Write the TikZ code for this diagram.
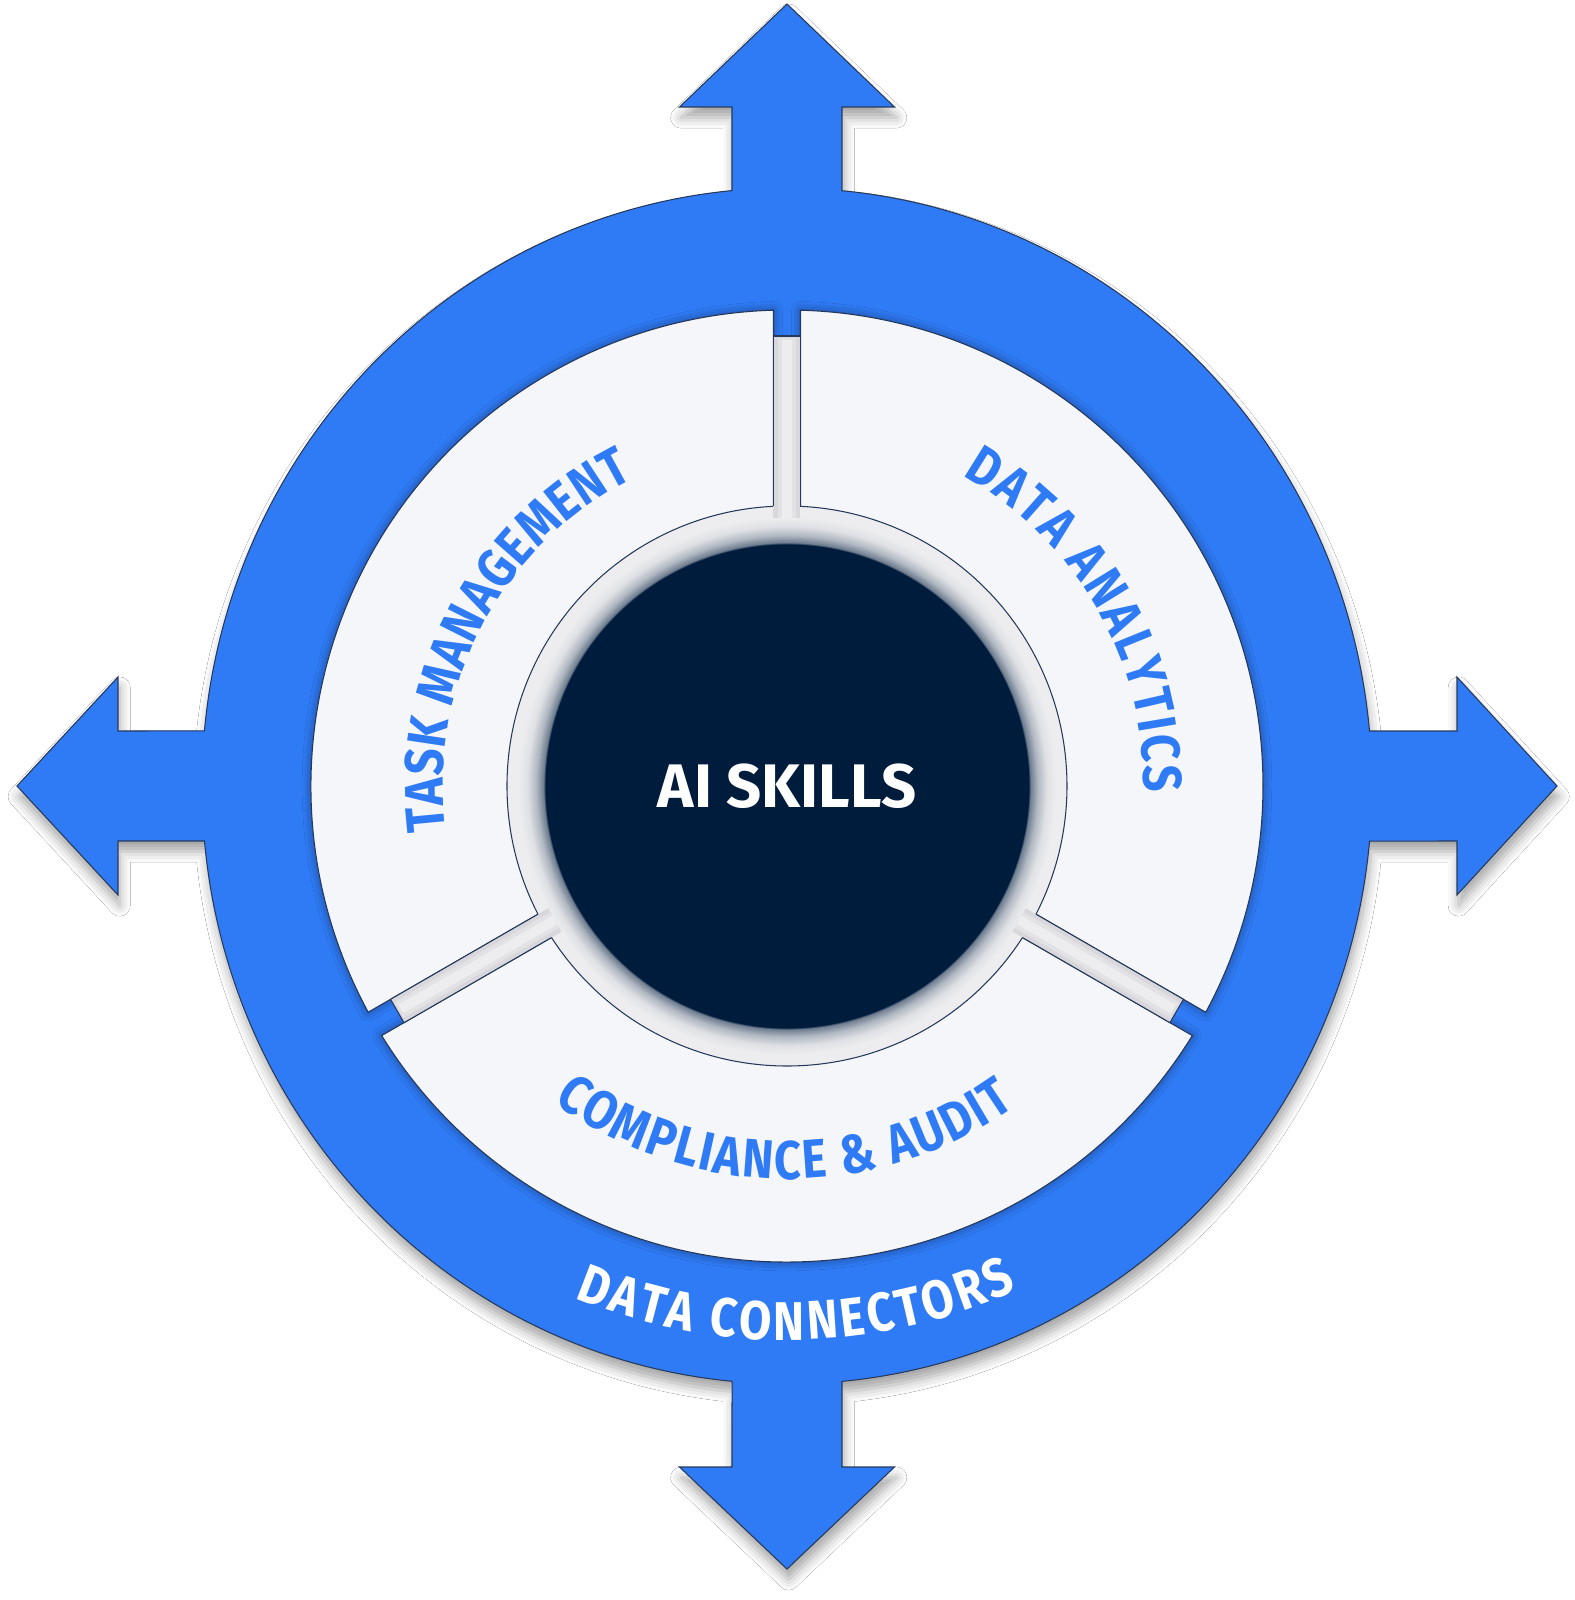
\documentclass[tikz,border=0pt]{standalone}
\usepackage{fontspec}
\setmainfont{Fira Sans}
\newfontfamily\arcfont[FakeStretch=0.86]{Fira Sans}
\usetikzlibrary{decorations.text,shadows.blur}

\definecolor{ringblue}{RGB}{47,123,246}
\definecolor{corenavy}{RGB}{0,28,61}
\definecolor{segfill}{RGB}{244,246,250}
\definecolor{edgeline}{RGB}{38,57,90}
\definecolor{hubgray}{RGB}{237,237,239}
\definecolor{spokegray}{RGB}{216,216,220}

% navy core fading into the light hub ring (25bp = rim of the hub)
\pgfdeclareradialshading{hubshade}{\pgfpoint{0bp}{0bp}}{%
  color(0bp)=(corenavy); color(21.6bp)=(corenavy);
  color(21.7bp)=(corenavy!55!hubgray); color(22.4bp)=(corenavy!25!hubgray);
  color(23.2bp)=(corenavy!6!hubgray); color(24bp)=(hubgray); color(50bp)=(hubgray)}

\tikzset{
  segment/.style={fill=segfill, draw=edgeline, line width=0.3pt,
    blur shadow={shadow xshift=0pt, shadow yshift=0pt, shadow blur radius=2.5pt, shadow opacity=45}},
  arclabel/.style 2 args={decorate, decoration={text along path, text align={fit to path},
    text color=#1, text={|\arcfont\bfseries\fontsize{15.5}{18}\selectfont|#2}}},
}

\begin{document}
\begin{tikzpicture}[x=0.1mm, y=0.1mm]
    \path[use as bounding box, fill=white] (-787,-814) rectangle (788,786);
    % blue ring with four arrows
    \path[fill=ringblue, draw=edgeline, line width=0.3pt,
          blur shadow={shadow xshift=0.5pt, shadow yshift=-3pt, shadow blur radius=3pt, shadow opacity=35}]
        (55,595.4) -- (55,679) -- (107.5,679) -- (0,782) -- (-107.5,679) -- (-55,679) -- (-55,595.4)
        arc[x radius=585, y radius=598, start angle=95.39, end angle=174.72]
        -- (-669,55) -- (-669,109) -- (-770,0) -- (-669,-109) -- (-669,-55) -- (-582.5,-55)
        arc[x radius=585, y radius=598, start angle=185.28, end angle=264.61]
        -- (-55,-681) -- (-107.5,-681) -- (0,-783) -- (107.5,-681) -- (55,-681) -- (55,-595.4)
        arc[x radius=585, y radius=598, start angle=275.39, end angle=354.72]
        -- (670,-55) -- (670,-109) -- (770,0) -- (670,109) -- (670,55) -- (582.5,55)
        arc[x radius=585, y radius=598, start angle=5.28, end angle=84.61] -- cycle;
    % three light segments, edges parallel to the gaps
    \foreach \c in {150,30,270}{%
        \path[segment] ({\c+58.375}:476) arc[start angle={\c+58.375}, end angle={\c-58.375}, radius=476]
            -- ({\c-57.23}:279) arc[start angle={\c-57.23}, end angle={\c+57.23}, radius=279] -- cycle;
    }
    % hub ring round the core
    \shade[shading=hubshade] (0,0) circle (280);
    \draw[edgeline, line width=0.3pt] (0,0) circle (280);
    % spokes in the gaps
    \foreach \g in {90,210,330}{%
        \begin{scope}[rotate=\g]
            \fill[spokegray] (268,-13.5) rectangle (450,13.5);
            \fill[spokegray!50!hubgray] (268,-9) rectangle (448,9);
            \fill[hubgray] (268,-5) rectangle (446,5);
            \draw[edgeline, line width=0.3pt] (279.7,13.5) -- (450,13.5) -- (450,-13.5) -- (279.7,-13.5);
        \end{scope}
    }
    % core label
    \node[text=white, font=\bfseries\fontsize{17.5}{20}\selectfont] (core) at (0,0) {AI SKILLS};
    % curved labels
    \path[arclabel={ringblue}{TASK MANAGEMENT}] (187.5:344) arc[start angle=187.5, end angle=116.5, radius=344];
    \path[arclabel={ringblue}{DATA ANALYTICS}] (60.5:357) arc[start angle=60.5, end angle=-1, radius=357];
    \path[arclabel={ringblue}{COMPLIANCE {\&} AUDIT}] (233.5:393) arc[start angle=233.5, end angle=305.5, radius=393];
    \path[arclabel={white}{DATA CONNECTORS}] (247.5:554) arc[start angle=247.5, end angle=294.5, radius=554];
\end{tikzpicture}
\end{document}
